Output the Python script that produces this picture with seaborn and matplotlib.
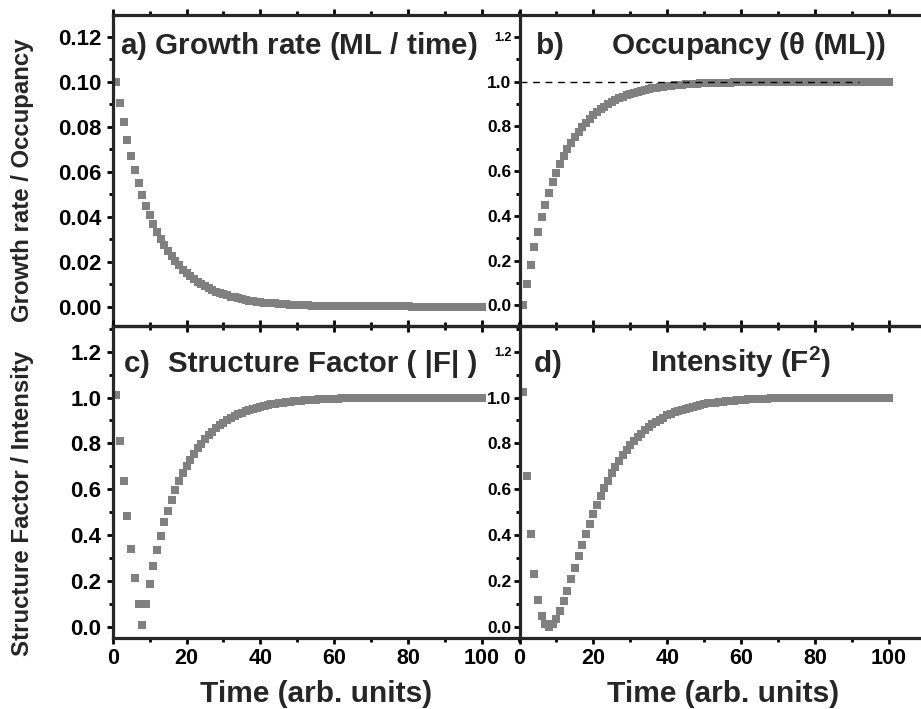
import matplotlib
matplotlib.use("Agg")
import matplotlib.pyplot as plt
from matplotlib.ticker import MultipleLocator, FixedLocator
import seaborn as sns
import pandas as pd

# ---- data -------------------------------------------------------------
time = list(range(1, 101))

growth_rate = [
    0.1000, 0.0905, 0.0819, 0.0741, 0.0670, 0.0607, 0.0549, 0.0497, 0.0449, 0.0407,
    0.0368, 0.0333, 0.0301, 0.0273, 0.0247, 0.0223, 0.0202, 0.0183, 0.0165, 0.0150,
    0.0135, 0.0122, 0.0111, 0.0100, 0.0091, 0.0082, 0.0074, 0.0067, 0.0061, 0.0055,
    0.0050, 0.0045, 0.0041, 0.0037, 0.0033, 0.0030, 0.0027, 0.0025, 0.0022, 0.0020,
    0.0018, 0.0017, 0.0015, 0.0014, 0.0012, 0.0011, 0.0010, 0.0009, 0.0008, 0.0007,
    0.0007, 0.0006, 0.0006, 0.0005, 0.0005, 0.0004, 0.0004, 0.0003, 0.0003, 0.0003,
    0.0002, 0.0002, 0.0002, 0.0002, 0.0002, 0.0002, 0.0001, 0.0001, 0.0001, 0.0001,
    0.0001, 0.0001, 0.0001, 0.0001, 0.0001, 0.0001, 0.0001, 0.0001, 0.0001, 0.0001,
    0.0000, 0.0000, 0.0000, 0.0000, 0.0000, 0.0000, 0.0000, 0.0000, 0.0000, 0.0000,
    0.0000, 0.0000, 0.0000, 0.0000, 0.0000, 0.0000, 0.0000, 0.0000, 0.0000, 0.0000,
]

occupancy = [
    0.000, 0.095, 0.181, 0.259, 0.330, 0.393, 0.451, 0.503, 0.551, 0.593,
    0.632, 0.667, 0.699, 0.727, 0.753, 0.777, 0.798, 0.817, 0.835, 0.850,
    0.865, 0.878, 0.889, 0.900, 0.909, 0.918, 0.926, 0.933, 0.939, 0.945,
    0.950, 0.955, 0.959, 0.963, 0.967, 0.970, 0.973, 0.975, 0.978, 0.980,
    0.982, 0.983, 0.985, 0.986, 0.988, 0.989, 0.990, 0.991, 0.992, 0.993,
    0.993, 0.994, 0.994, 0.995, 0.995, 0.996, 0.996, 0.997, 0.997, 0.997,
    0.998, 0.998, 0.998, 0.998, 0.998, 0.999, 0.999, 0.999, 0.999, 0.999,
    0.999, 0.999, 0.999, 0.999, 0.999, 0.999, 0.999, 0.999, 0.999, 0.999,
    1.000, 1.000, 1.000, 1.000, 1.000, 1.000, 1.000, 1.000, 1.000, 1.000,
    1.000, 1.000, 1.000, 1.000, 1.000, 1.000, 1.000, 1.000, 1.000, 1.000,
]

structure_factor = [
    1.010, 0.810, 0.637, 0.482, 0.341, 0.213, 0.098, 0.007, 0.101, 0.187,
    0.264, 0.334, 0.398, 0.455, 0.507, 0.554, 0.596, 0.635, 0.669, 0.701,
    0.729, 0.755, 0.778, 0.799, 0.819, 0.836, 0.851, 0.866, 0.878, 0.890,
    0.900, 0.910, 0.918, 0.926, 0.933, 0.940, 0.945, 0.951, 0.955, 0.960,
    0.963, 0.967, 0.970, 0.973, 0.975, 0.978, 0.980, 0.982, 0.984, 0.985,
    0.987, 0.988, 0.989, 0.990, 0.991, 0.992, 0.993, 0.993, 0.994, 0.995,
    0.995, 0.996, 0.996, 0.996, 0.997, 0.997, 0.997, 0.998, 0.998, 0.998,
    0.998, 0.998, 0.999, 0.999, 0.999, 0.999, 0.999, 0.999, 0.999, 0.999,
    1.000, 1.000, 1.000, 1.000, 1.000, 1.000, 1.000, 1.000, 1.000, 1.000,
    1.000, 1.000, 1.000, 1.000, 1.000, 1.000, 1.000, 1.000, 1.000, 1.000,
]

intensity = [
    1.025, 0.656, 0.406, 0.232, 0.116, 0.045, 0.010, 0.000, 0.010, 0.035,
    0.070, 0.112, 0.158, 0.207, 0.257, 0.307, 0.355, 0.403, 0.448, 0.491,
    0.531, 0.570, 0.605, 0.638, 0.670, 0.699, 0.724, 0.750, 0.771, 0.792,
    0.810, 0.828, 0.843, 0.857, 0.870, 0.884, 0.893, 0.904, 0.912, 0.922,
    0.927, 0.935, 0.941, 0.947, 0.951, 0.956, 0.960, 0.964, 0.968, 0.970,
    0.974, 0.976, 0.978, 0.980, 0.982, 0.984, 0.986, 0.986, 0.988, 0.990,
    0.990, 0.992, 0.992, 0.992, 0.994, 0.994, 0.994, 0.996, 0.996, 0.996,
    0.996, 0.996, 0.998, 0.998, 0.998, 0.998, 0.998, 0.998, 0.998, 0.998,
    0.999, 0.999, 0.999, 0.999, 0.999, 0.999, 0.999, 0.999, 0.999, 0.999,
    1.000, 1.000, 1.000, 1.000, 1.000, 1.000, 1.000, 1.000, 1.000, 1.000,
]

x_ticks = [0, 20, 40, 60, 80, 100]
rate_ticks = [0.00, 0.02, 0.04, 0.06, 0.08, 0.10, 0.12]
unit_ticks = [0.0, 0.2, 0.4, 0.6, 0.8, 1.0, 1.2]

df = pd.DataFrame({
    "time": time,
    "rate": growth_rate,
    "theta": occupancy,
    "F": structure_factor,
    "I": intensity,
})

# ---- style ------------------------------------------------------------
sns.set_style("ticks")
plt.rcParams["font.family"] = ["Liberation Sans", "DejaVu Sans"]
plt.rcParams["font.weight"] = "bold"
plt.rcParams["mathtext.fontset"] = "custom"
plt.rcParams["mathtext.rm"] = "Liberation Sans:bold"
plt.rcParams["mathtext.sf"] = "Liberation Sans"
plt.rcParams["mathtext.default"] = "rm"

W, H = 921, 709
fig = plt.figure(figsize=(W / 100, H / 100), dpi=100)

X0, X1 = 112.7, 519.5          # left edges of the two columns (px)
PW = X1 - X0                   # panel width (px)
YT, YM, YB = 15, 326, 638      # top / middle / bottom borders (px)


def add_panel(left, top, bottom):
    return fig.add_axes([left / W, 1 - bottom / H, PW / W, (bottom - top) / H])


ax_a = add_panel(X0, YT, YM)
ax_c = add_panel(X0, YM, YB)
ax_b = add_panel(X1, YT, YM)
ax_d = add_panel(X1, YM, YB)

GREY = "#808080"
marker_kw = dict(marker="s", s=32, color=GREY, linewidth=0, legend=False, zorder=2)

sns.scatterplot(data=df, x="time", y="rate", ax=ax_a, **marker_kw)
sns.scatterplot(data=df, x="time", y="theta", ax=ax_b, **marker_kw)
sns.scatterplot(data=df, x="time", y="F", ax=ax_c, **marker_kw)
sns.scatterplot(data=df, x="time", y="I", ax=ax_d, **marker_kw)

# saturation reference in the occupancy panel
ax_b.plot([0, 92], [1.0, 1.0], ls=(0, (5, 4)), color="black", lw=1.0, zorder=3)

ax_a.set_ylim(-0.0086, 0.1296)
ax_b.set_ylim(-0.092, 1.298)
ax_c.set_ylim(-0.049, 1.312)
ax_d.set_ylim(-0.049, 1.312)

for ax in (ax_a, ax_b, ax_c, ax_d):
    ax.set_xlim(0, 110.2)
    ax.xaxis.set_major_locator(FixedLocator(x_ticks))
    ax.xaxis.set_minor_locator(MultipleLocator(10))
    ax.set_xlabel("")
    ax.set_ylabel("")
    for sp in ax.spines.values():
        sp.set_linewidth(2.3)
        sp.set_zorder(5)
    ax.spines["right"].set_visible(False)
    ax.tick_params(which="both", direction="out", width=2.0, colors="black",
                   top=True, bottom=True, left=True, right=False)
    ax.tick_params(which="major", length=4)
    ax.tick_params(which="minor", length=3)
    ax.patch.set_alpha(0)

ax_a.yaxis.set_major_locator(FixedLocator(rate_ticks))
ax_a.yaxis.set_minor_locator(MultipleLocator(0.01))
for ax in (ax_b, ax_c, ax_d):
    ax.yaxis.set_major_locator(FixedLocator(unit_ticks))
    ax.yaxis.set_minor_locator(MultipleLocator(0.1))

ax_a.set_yticklabels([f"{v:.2f}" for v in rate_ticks])
ax_c.set_yticklabels([f"{v:.1f}" for v in unit_ticks])
ax_b.set_yticklabels([f"{v:.1f}" for v in unit_ticks])
ax_d.set_yticklabels([f"{v:.1f}" for v in unit_ticks])
ax_c.set_xticklabels([str(v) for v in x_ticks])
ax_d.set_xticklabels([str(v) for v in x_ticks])
ax_a.set_xticklabels([])
ax_b.set_xticklabels([])

for ax in (ax_a, ax_c):
    ax.tick_params(axis="y", which="major", labelsize=16, pad=4)
for ax in (ax_b, ax_d):
    ax.tick_params(axis="y", which="major", labelsize=12.5, pad=2)
    ax.get_yticklabels()[-1].set_fontsize(9)
for ax in (ax_c, ax_d):
    ax.tick_params(axis="x", which="major", labelsize=15.5, pad=3)
for ax in (ax_a, ax_b, ax_c, ax_d):
    for lab in ax.get_xticklabels() + ax.get_yticklabels():
        lab.set_fontweight("bold")


def ftext(x, y, s, **kw):
    fig.text(x / W, 1 - y / H, s, fontweight="bold", **kw)


# panel titles
TS = 21.3
ftext(120, 54, r"a$\mathsf{)}$ Growth rate (ML / time)", fontsize=TS, va="baseline")
ftext(535, 54, r"b$\mathsf{)}$", fontsize=TS, va="baseline")
ftext(611, 54, r"Occupancy ($\mathsf{\theta}$ (ML))", fontsize=TS, va="baseline")
ftext(123, 372, r"c$\mathsf{)}$", fontsize=TS, va="baseline")
ftext(168, 372, "Structure Factor ( |F| )", fontsize=TS, va="baseline")
ftext(533, 372, r"d$\mathsf{)}$", fontsize=TS, va="baseline")
ftext(650, 372, r"Intensity (F$^{2}$)", fontsize=TS, va="baseline")

# axis labels
ftext(X0 + PW / 2, 702, "Time (arb. units)", fontsize=21.5, ha="center", va="baseline")
ftext(X1 + PW / 2, 702, "Time (arb. units)", fontsize=21.5, ha="center", va="baseline")
ftext(23, 180, "Growth rate / Occupancy", fontsize=17.3, rotation=90,
      ha="center", va="center")
ftext(23, 503, "Structure Factor / Intensity", fontsize=17.3, rotation=90,
      ha="center", va="center")

fig.savefig("out.png", dpi=100)
